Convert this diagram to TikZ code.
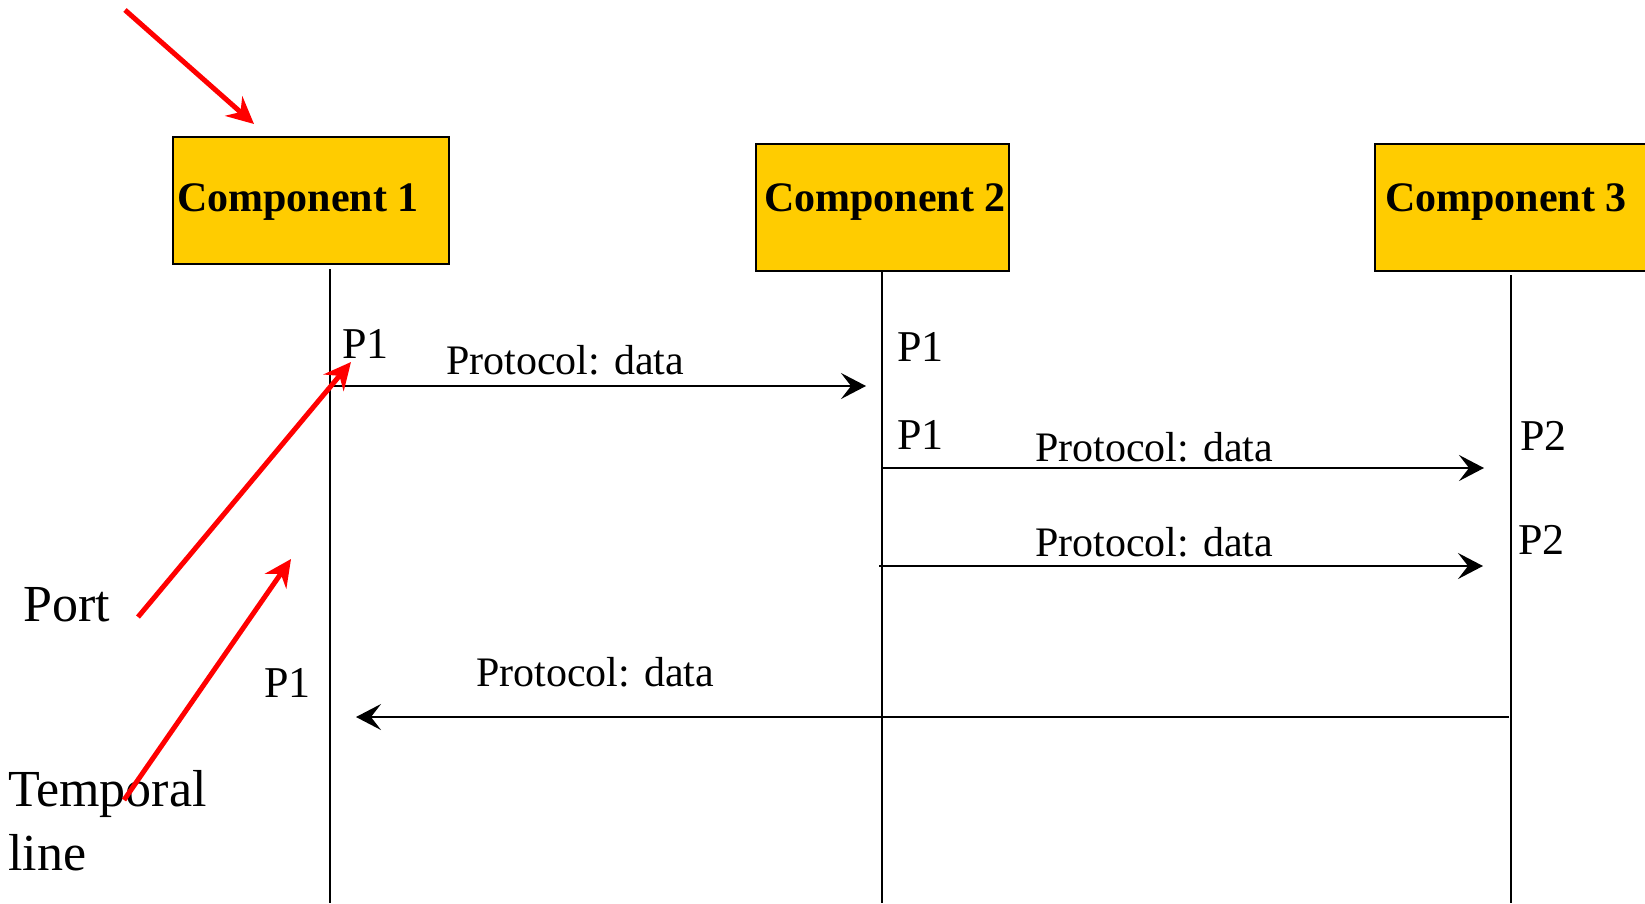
\documentclass[tikz,border=0pt]{standalone}
\usepackage{fontspec}
\setmainfont{Liberation Serif}
\usetikzlibrary{arrows.meta}
\definecolor{compyellow}{RGB}{255,204,0}
\tikzset{
  compbox/.style={draw=black,line width=2.5pt,fill=compyellow},
  comptext/.style={anchor=base west,inner sep=0pt,font=\fontsize{42}{50}\selectfont\bfseries},
  msgtext/.style={anchor=base west,inner sep=0pt,font=\fontsize{42}{50}\selectfont},
  porttext/.style={anchor=base west,inner sep=0pt,font=\fontsize{44}{52}\selectfont},
  notetext/.style={anchor=base west,inner sep=0pt,align=left,font=\fontsize{52}{64}\selectfont},
  lifeline/.style={draw=black,line width=2pt},
  msg/.style={draw=black,line width=2pt,-{Stealth[length=25pt,width=26pt,inset=10pt]}},
  redarrow/.style={draw=red,line width=5pt,-{Stealth[length=27pt,width=26pt,inset=9pt]}}
}
\begin{document}
\begin{tikzpicture}[x=1pt,y=-1pt]
\useasboundingbox (0,0) rectangle (1645,903);
% component boxes
\path[compbox] (173,137) rectangle (449,264);
\path[compbox] (756,144) rectangle (1009,271);
\path[compbox] (1375,144) rectangle (1660,271);
\node[comptext] (c1) at (177,211) {Component 1};
\node[comptext] (c2) at (764,211) {Component 2};
\node[comptext] (c3) at (1385,211) {Component 3};
% lifelines
\coordinate (l1t) at (330,269); \coordinate (l1b) at (330,903);
\coordinate (l2t) at (882,271); \coordinate (l2b) at (882,903);
\coordinate (l3t) at (1511,275); \coordinate (l3b) at (1511,903);
\draw[lifeline] (l1t) -- (l1b);
\draw[lifeline] (l2t) -- (l2b);
\draw[lifeline] (l3t) -- (l3b);
% messages
\coordinate (m1s) at (330,386); \coordinate (m1e) at (866,386);
\coordinate (m2s) at (882,468); \coordinate (m2e) at (1484,468);
\coordinate (m3s) at (879,566); \coordinate (m3e) at (1483,566);
\coordinate (m4s) at (1509,717); \coordinate (m4e) at (356,717);
\draw[msg] (m1s) -- (m1e);
\draw[msg] (m2s) -- (m2e);
\draw[msg] (m3s) -- (m3e);
\draw[msg] (m4s) -- (m4e);
\node[msgtext] (t1) at (446,374) {Protocol: data};
\node[msgtext] (t2) at (1035,461) {Protocol: data};
\node[msgtext] (t3) at (1035,556) {Protocol: data};
\node[msgtext] (t4) at (476,686) {Protocol: data};
% ports
\node[porttext] (p1a) at (342,358) {P1};
\node[porttext] (p1b) at (897,361) {P1};
\node[porttext] (p1c) at (897,449) {P1};
\node[porttext] (p2a) at (1520,450) {P2};
\node[porttext] (p2b) at (1518,554) {P2};
\node[porttext] (p1d) at (264,697) {P1};
% annotations
\node[notetext] (port) at (23,621) {Port};
\node[notetext] (temp) at (8,870) {Temporal\\line};
\coordinate (r1s) at (125,10); \coordinate (r1e) at (254,124);
\coordinate (r2s) at (138,617); \coordinate (r2e) at (351,362);
\coordinate (r3s) at (124,800); \coordinate (r3e) at (291,559);
\draw[redarrow] (r1s) -- (r1e);
\draw[redarrow] (r2s) -- (r2e);
\draw[redarrow] (r3s) -- (r3e);
\end{tikzpicture}
\end{document}
